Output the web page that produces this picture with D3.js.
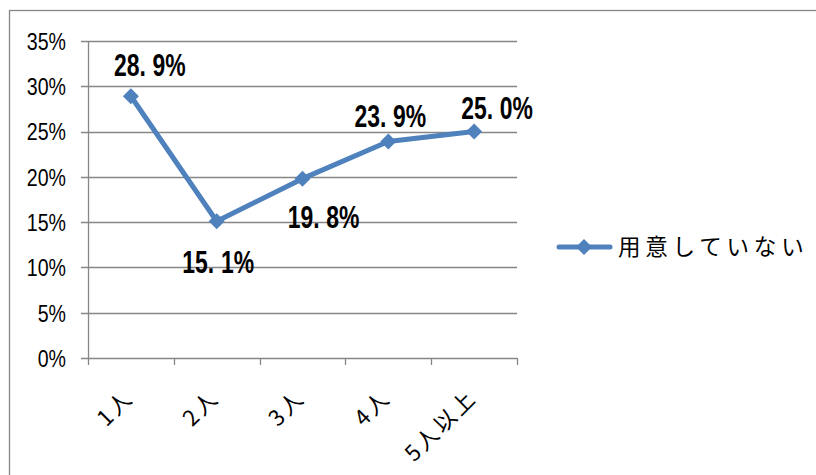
<!DOCTYPE html>
<html><head><meta charset="utf-8">
<script src="https://cdn.jsdelivr.net/npm/d3@7"></script>
<style>
html,body{margin:0;padding:0;background:#fff;}
svg{display:block;}
</style></head>
<body>
<svg id="chart" width="816" height="475"></svg>
<script>
const categories = ["1人", "2人", "3人", "4人", "5人以上"];
const values = [28.9, 15.1, 19.8, 23.9, 25.0];
const yTicks = [0, 5, 10, 15, 20, 25, 30, 35];
const seriesName = "用意していない";

const svg = d3.select("#chart");
const blue = "#4F81BD";
const grid = "#868686";
const numFont = "'Liberation Sans', Arial, sans-serif";
const jpFont = "'Noto Sans CJK JP', sans-serif";

// outer border
svg.append("rect").attr("x", 9.5).attr("y", 10.5).attr("width", 900).attr("height", 600)
  .attr("fill", "none").attr("stroke", grid).attr("stroke-width", 1.3);

const x = d3.scaleBand().domain(categories).range([88, 517]).padding(0);
const y = d3.scaleLinear().domain([0, 35]).range([358, 41]);
const cx = c => x(c) + x.bandwidth() / 2;

// gridlines + y axis
const gy = svg.append("g");
gy.selectAll("line.grid").data(yTicks).join("line")
  .attr("x1", 81).attr("x2", 517)
  .attr("y1", d => Math.round(y(d)) + 0.5).attr("y2", d => Math.round(y(d)) + 0.5)
  .attr("stroke", grid).attr("stroke-width", 1.3);
gy.append("line").attr("x1", 88.5).attr("x2", 88.5).attr("y1", y(35)).attr("y2", y(0) + 1)
  .attr("stroke", grid).attr("stroke-width", 1.3);
gy.selectAll("text").data(yTicks).join("text")
  .attr("transform", d => `translate(66,${y(d)}) scale(0.8,1)`)
  .attr("text-anchor", "end").attr("dy", "0.36em")
  .attr("font-family", numFont).attr("font-size", 24.5).attr("fill", "#000")
  .text(d => d + "%");

// x axis ticks
const xTickPos = categories.map(c => x(c)).concat([x(categories[categories.length - 1]) + x.bandwidth()]);
svg.append("g").selectAll("line").data(xTickPos).join("line")
  .attr("x1", d => Math.round(d) + 0.5).attr("x2", d => Math.round(d) + 0.5)
  .attr("y1", y(0)).attr("y2", y(0) + 7)
  .attr("stroke", grid).attr("stroke-width", 1.3);

// x labels
svg.append("g").selectAll("text").data(categories).join("text")
  .attr("transform", d => `translate(${cx(d) + 4},${399}) rotate(-45)`)
  .attr("text-anchor", "end")
  .attr("font-family", jpFont).attr("font-size", 22).attr("letter-spacing", 3)
  .attr("fill", "#000")
  .text(d => d);

// line
const line = d3.line().x((d, i) => cx(categories[i])).y(d => y(d));
svg.append("path").datum(values).attr("d", line)
  .attr("fill", "none").attr("stroke", blue).attr("stroke-width", 5)
  .attr("stroke-linejoin", "round").attr("stroke-linecap", "round");

const marker = d3.symbol(d3.symbolSquare, 128);
svg.append("g").selectAll("path").data(values).join("path")
  .attr("d", marker)
  .attr("transform", (d, i) => `translate(${cx(categories[i])},${y(d)}) rotate(45)`)
  .attr("fill", blue);

// data labels (offsets from point: dx, dy to baseline)
const labelOffsets = [[19, -20], [1.5, 52], [21, 49], [2, -14.5], [23, -12.6]];
const dl = svg.append("g").selectAll("text").data(values).join("text")
  .attr("transform", (d, i) => `translate(${cx(categories[i]) + labelOffsets[i][0]},${y(d) + labelOffsets[i][1]}) scale(0.74,1)`)
  .attr("text-anchor", "middle")
  .attr("font-family", numFont).attr("font-weight", "bold").attr("font-size", 31)
  .attr("fill", "#000");
dl.append("tspan").text(d => d.toFixed(1).split(".")[0] + ".");
dl.append("tspan").attr("dx", 9).text(d => d.toFixed(1).split(".")[1] + "%");

// legend
const lg = svg.append("g");
lg.append("line").attr("x1", 559).attr("x2", 610).attr("y1", 247).attr("y2", 247)
  .attr("stroke", blue).attr("stroke-width", 5).attr("stroke-linecap", "round");
lg.append("path").attr("d", marker).attr("transform", "translate(584,247) rotate(45)").attr("fill", blue);
lg.append("text").attr("x", 618).attr("y", 247).attr("dy", "0.35em")
  .attr("font-family", jpFont).attr("font-size", 22.5).attr("letter-spacing", 4.8)
  .attr("fill", "#000").text(seriesName);
</script>
</body></html>
